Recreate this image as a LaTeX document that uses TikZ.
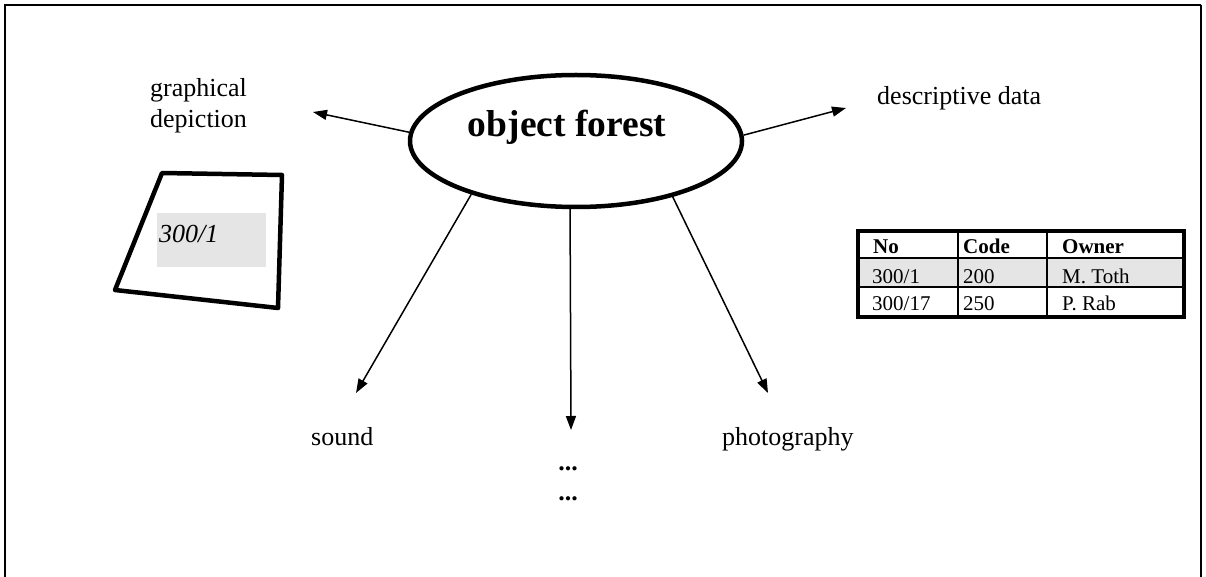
\documentclass[tikz,border=0pt]{standalone}
\usepackage{fontspec}
\setmainfont{Liberation Serif}
\usetikzlibrary{arrows.meta,shapes.geometric}
\tikzset{
  lbl/.style={inner sep=0pt, anchor=base west, font=\fontsize{26}{31}\selectfont},
  cell/.style={inner sep=0pt, anchor=base west, font=\fontsize{21}{25}\selectfont},
  hcell/.style={cell, font=\fontsize{21}{25}\selectfont\bfseries},
  arr/.style={line width=1.5pt, -{Triangle[length=14pt,width=10pt]}},
}
\begin{document}
\begin{tikzpicture}[x=1pt,y=-1pt]
\useasboundingbox (0,0) rectangle (1206,577);
% frame
\draw[line width=2.5pt] (5,577) -- (5,5) -- (1201,5);
\draw[line width=1.3pt] (1201,5) -- (1201,577);

% central ellipse
\node[draw, ellipse, line width=4.5pt, inner sep=0pt, minimum width=332pt, minimum height=132pt] (ell) at (576,141) {};
\node[inner sep=0pt, anchor=base, font=\fontsize{37.5}{44}\selectfont\bfseries] (title) at (567,137) {object forest};

% arrow tips
\coordinate (tgd) at (313,112);
\coordinate (tdd) at (846,108);
\coordinate (tso) at (356,393);
\coordinate (tdo) at (571,430);
\coordinate (tph) at (768,393);

\draw[arr] (ell.177) -- (tgd);
\draw[arr] (ell.2) -- (tdd);
\draw[arr] (ell.207.6) -- (tso);
\draw[arr] (ell.265) -- (tdo);
\draw[arr] (ell.330) -- (tph);

% labels
\node[lbl] (gd1) at (150,97) {graphical};
\node[lbl] (gd2) at (150,128) {depiction};
\node[lbl] (dd) at (877,105) {descriptive data};
\node[lbl] (so) at (311,445) {sound};
\node[lbl] (ph) at (722,445) {photography};
\node[inner sep=0pt, anchor=base, font=\fontsize{26}{31}\selectfont\bfseries] (dots1) at (568,470) {...};
\node[inner sep=0pt, anchor=base, font=\fontsize{26}{31}\selectfont\bfseries] (dots2) at (568,500) {...};

% graphical depiction: parcel
\fill[gray!20] (157,213) rectangle (266,267);
\draw[line width=4.5pt, line join=round] (162,173) -- (282,175) -- (278,308) -- (115,290) -- cycle;
\node[lbl, font=\fontsize{26}{31}\selectfont\itshape] (parcel) at (159,243) {300/1};

% table
\fill[gray!20] (858,258) rectangle (1184,287);
\draw[line width=2pt] (858,258) -- (1184,258);
\draw[line width=2pt] (858,287) -- (1184,287);
\draw[line width=2pt] (958,231) -- (958,317);
\draw[line width=2pt] (1047,231) -- (1047,317);
\draw[line width=4pt] (858,231) rectangle (1184,317);
\node[hcell] (h1) at (873,253) {No};
\node[hcell] (h2) at (963,253) {Code};
\node[hcell] (h3) at (1062,253) {Owner};
\node[cell] (a1) at (872,283) {300/1};
\node[cell] (a2) at (963,283) {200};
\node[cell] (a3) at (1062,283) {M. Toth};
\node[cell] (b1) at (872,310) {300/17};
\node[cell] (b2) at (963,310) {250};
\node[cell] (b3) at (1062,310) {P. Rab};
\end{tikzpicture}
\end{document}
